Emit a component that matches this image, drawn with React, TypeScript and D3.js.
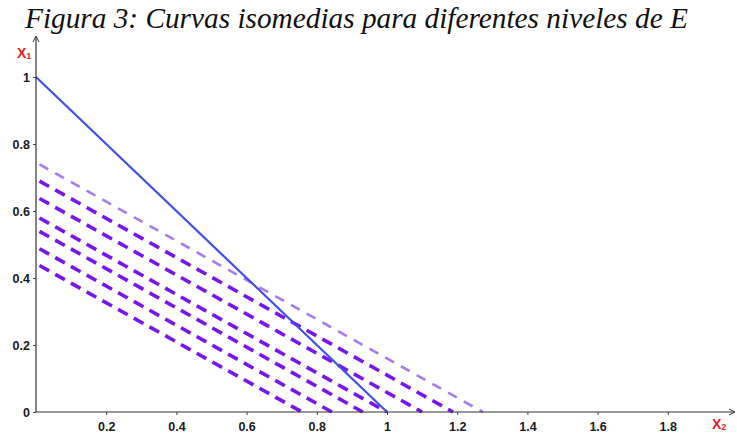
import * as d3 from "d3";
import { useEffect, useRef } from "react";

const W = 737;
const H = 436;

// x-intercepts of the dashed isomedia lines (x1 = 0 when x2 = value)
const isoXIntercepts = [0.758, 0.843, 0.931, 1.0, 1.1, 1.188, 1.273];
// x1 value where each dashed line starts on the x1 axis
const isoYIntercepts = [0.443, 0.493, 0.545, 0.585, 0.643, 0.695, 0.745];
// last line is the light one
const isoLight = [false, false, false, false, false, false, true];

// solid constraint line
const solidLine = [
  { x2: 0, x1: 1 },
  { x2: 1, x1: 0 },
];

const xTicks = [0.2, 0.4, 0.6, 0.8, 1, 1.2, 1.4, 1.6, 1.8];
const yTicks = [0, 0.2, 0.4, 0.6, 0.8, 1];

const title = "Figura 3: Curvas isomedias para diferentes niveles de E";

const App = () => {
  const ref = useRef<SVGSVGElement>(null);

  useEffect(() => {
    const svg = d3.select(ref.current);
    svg.selectAll("*").remove();

    const x = d3.scaleLinear().domain([0, 2]).range([36, 738]);
    const y = d3.scaleLinear().domain([0, 1]).range([412, 77]);

    svg
      .append("text")
      .attr("x", 25)
      .attr("y", 28)
      .style("font-family", "'Liberation Serif', 'Times New Roman', serif")
      .style("font-style", "italic")
      .style("font-size", "29.3px")
      .attr("fill", "#111")
      .text(title);

    const line = d3
      .line<{ x2: number; x1: number }>()
      .x((d) => x(d.x2))
      .y((d) => y(d.x1));

    // dashed isomedia lines
    isoXIntercepts.forEach((xi, i) => {
      const pts = [
        { x2: 0, x1: isoYIntercepts[i] },
        { x2: xi, x1: 0 },
      ];
      svg
        .append("path")
        .attr("d", line(pts))
        .attr("fill", "none")
        .attr("stroke", isoLight[i] ? "#a77cf2" : "#7a14ee")
        .attr("stroke-width", isoLight[i] ? 2.6 : 3.6)
        .attr("stroke-dasharray", isoLight[i] ? "10 8" : "11 7")
        .attr("stroke-dashoffset", -4);
    });

    svg
      .append("path")
      .attr("d", line(solidLine))
      .attr("fill", "none")
      .attr("stroke", "#3f4fe8")
      .attr("stroke-width", 2.2);

    const fmt = (d: number) => (Number.isInteger(d) ? String(d) : d.toFixed(1));

    const gx = svg
      .append("g")
      .attr("transform", `translate(0, ${y(0)})`)
      .call(d3.axisBottom(x).tickValues(xTicks).tickSize(3).tickPadding(7).tickFormat(fmt as any));
    gx.select(".domain").remove();

    const gy = svg
      .append("g")
      .attr("transform", `translate(${x(0)}, 0)`)
      .call(d3.axisLeft(y).tickValues(yTicks).tickSize(3).tickPadding(3).tickFormat(fmt as any));
    gy.select(".domain").remove();

    svg
      .selectAll(".tick text")
      .style("font-family", "'Liberation Sans', Arial, sans-serif")
      .style("font-weight", "bold")
      .style("font-size", "12.5px")
      .attr("fill", "#1a1a1a");
    svg.selectAll(".tick line").attr("stroke", "#444");

    // axis lines with arrows
    const axisColor = "#333";
    svg
      .append("line")
      .attr("x1", x(0))
      .attr("x2", 734)
      .attr("y1", y(0))
      .attr("y2", y(0))
      .attr("stroke", axisColor)
      .attr("stroke-width", 1.2);
    svg
      .append("path")
      .attr("d", `M729,${y(0) - 3} L735,${y(0)} L729,${y(0) + 3}`)
      .attr("fill", "none")
      .attr("stroke", axisColor)
      .attr("stroke-width", 1);
    svg
      .append("line")
      .attr("x1", x(0))
      .attr("x2", x(0))
      .attr("y1", y(0))
      .attr("y2", 37)
      .attr("stroke", axisColor)
      .attr("stroke-width", 1.2);
    svg
      .append("path")
      .attr("d", `M${x(0) - 3},42 L${x(0)},36 L${x(0) + 3},42`)
      .attr("fill", "none")
      .attr("stroke", axisColor)
      .attr("stroke-width", 1);

    // axis names
    const addName = (tx: number, ty: number, sub: string) => {
      const t = svg
        .append("text")
        .attr("x", tx)
        .attr("y", ty)
        .style("font-family", "'Liberation Sans', Arial, sans-serif")
        .style("font-weight", "bold")
        .style("font-size", "14px")
        .attr("fill", "#e8202a");
      t.append("tspan").text("X");
      t.append("tspan").style("font-size", "9px").attr("dy", 1).text(sub);
    };
    addName(17, 58, "1");
    addName(712, 429, "2");
  }, []);

  return (
    <svg
      ref={ref}
      width={W}
      height={H}
      style={{ position: "absolute", left: 0, top: 0, background: "#fff" }}
    />
  );
};

export default App;
